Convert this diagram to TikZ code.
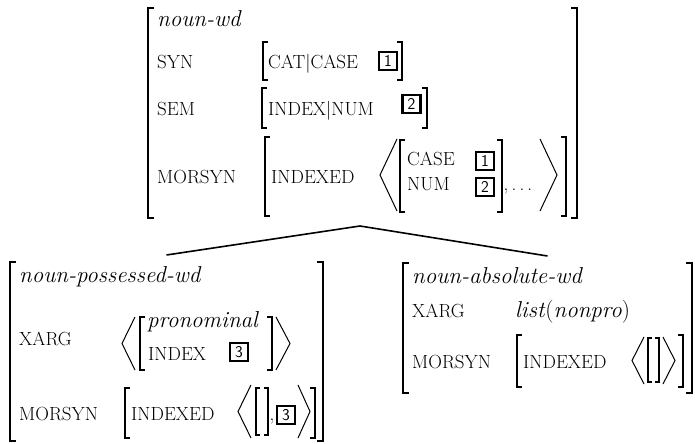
\documentclass[tikz,border=0pt]{standalone}
\usepackage{fontspec}
\newcommand\avmL[5][5]{\draw[#5] ({#2+#1},#3) -- (#2,#3) -- (#2,#4) -- ({#2+#1},#4);}
\newcommand\avmR[5][5]{\draw[#5] ({#2-#1},#3) -- (#2,#3) -- (#2,#4) -- ({#2-#1},#4);}
\newcommand\avmA[4]{\draw[ang] (#2,#3) -- (#1,{(#3+#4)/2}) -- (#2,#4);}
\begin{document}
\begin{tikzpicture}[x=1pt,y=-1pt,
  brk/.style={line width=1.3pt, line cap=butt, line join=miter},
  obrk/.style={line width=1.8pt, line cap=butt, line join=miter},
  ang/.style={line width=1pt, line join=miter},
  lab/.style={anchor=base west, inner sep=0pt, font=\fontsize{19}{22}\selectfont},
  typ/.style={anchor=base west, inner sep=0pt, font=\fontsize{23}{28}\selectfont\itshape},
  tagbox/.style={draw, line width=2.2pt, minimum size=18pt, inner sep=0pt, font=\fontsize{16.5}{16.5}\selectfont\sffamily},
  frame/.style={inner sep=0pt, outer sep=0pt, anchor=north},
  edge/.style={line width=1.6pt}]
\useasboundingbox (0,0) rectangle (696,444);

% frames (invisible) used for the tree connectors
\node[frame, minimum width=432pt, minimum height=226pt] (topavm) at (360,0) {};
\node[frame, minimum width=313pt, minimum height=188pt] (possavm) at (166.5,255) {};
\node[frame, minimum width=289pt, minimum height=138pt] (absavm) at (547.5,256) {};
\draw[edge] (possavm.north) -- (topavm.south) -- (absavm.north);

% ---------------- top AVM ----------------
\avmL[6]{148}{8}{218}{obrk}
\avmR[6]{577}{8}{218}{obrk}
\node[typ] (tw) at (157,27) {noun-wd};
\node[lab] (tsyn) at (157,68) {SYN};
\avmL{263}{42}{80}{brk}
\node[lab] (tcat) at (268,68) {CAT|CASE};
\node[tagbox] (tga) at (388,61) {1};
\avmR{402}{42}{80}{brk}
\node[lab] (tsem) at (157,115) {SEM};
\avmL{262}{88}{128}{brk}
\node[lab] (tind) at (268,115) {INDEX|NUM};
\node[tagbox] (tgb) at (411.5,104) {2};
\avmR{427}{88}{128}{brk}
\node[lab] (tmor) at (157,183) {MORSYN};
\avmL{265}{137}{216}{brk}
\node[lab] (tidx) at (271,183) {INDEXED};
\avmA{380}{397}{139}{211}
\avmL{400}{140}{212}{brk}
\node[lab] (tcase) at (407,165) {CASE};
\node[lab] (tnum) at (407,190) {NUM};
\node[tagbox] (tgc) at (485,161) {1};
\node[tagbox] (tgd) at (485,187) {2};
\avmR{502}{140}{212}{brk}
\node[lab] (tdots) at (503.5,190) {,\,.\,.\,.};
\avmA{557}{540}{139}{211}
\avmR{566}{137}{216}{brk}

% ---------------- noun-possessed-wd ----------------
\avmL[6]{10}{262}{441}{obrk}
\avmR[6]{323}{262}{441}{obrk}
\node[typ] (pw) at (19,282) {noun-possessed-wd};
\node[lab] (pxarg) at (19,345) {XARG};
\avmA{122}{135}{317}{370}
\avmL{140}{317}{370}{brk}
\node[typ] (ppro) at (147,327) {pronominal};
\node[lab] (pind) at (148,360) {INDEX};
\node[tagbox] (pga) at (239,352) {3};
\avmR{272}{317}{370}{brk}
\avmA{290}{276}{317}{370}
\node[lab] (pmor) at (19,420) {MORSYN};
\avmL{125}{388}{438}{brk}
\node[lab] (pidx) at (131,420) {INDEXED};
\avmA{238}{251}{385}{438}
\avmL[4]{256}{388}{435}{brk}
\avmR[4]{268}{388}{435}{brk}
\node[lab] (pcom) at (269.5,420) {,};
\node[tagbox] (pgb) at (286,415) {3};
\avmA{310}{298}{385}{438}
\avmR{315}{388}{438}{brk}

% ---------------- noun-absolute-wd ----------------
\avmL[6]{403}{263}{393}{obrk}
\avmR[6]{692}{263}{393}{obrk}
\node[typ] (aw) at (412,283) {noun-absolute-wd};
\node[lab] (axarg) at (412,317) {XARG};
\node[anchor=base west, inner sep=0pt, font=\fontsize{23}{28}\selectfont] (alist) at (515,317) {\textit{list}(\textit{nonpro})};
\node[lab] (amor) at (412,368) {MORSYN};
\avmL{517}{335}{387}{brk}
\node[lab] (aidx) at (523,368) {INDEXED};
\avmA{632}{644}{337}{384}
\avmL[4]{648}{338}{382}{brk}
\avmR[4]{659}{338}{382}{brk}
\avmA{675}{663}{337}{384}
\avmR{683}{335}{387}{brk}
\end{tikzpicture}
\end{document}
